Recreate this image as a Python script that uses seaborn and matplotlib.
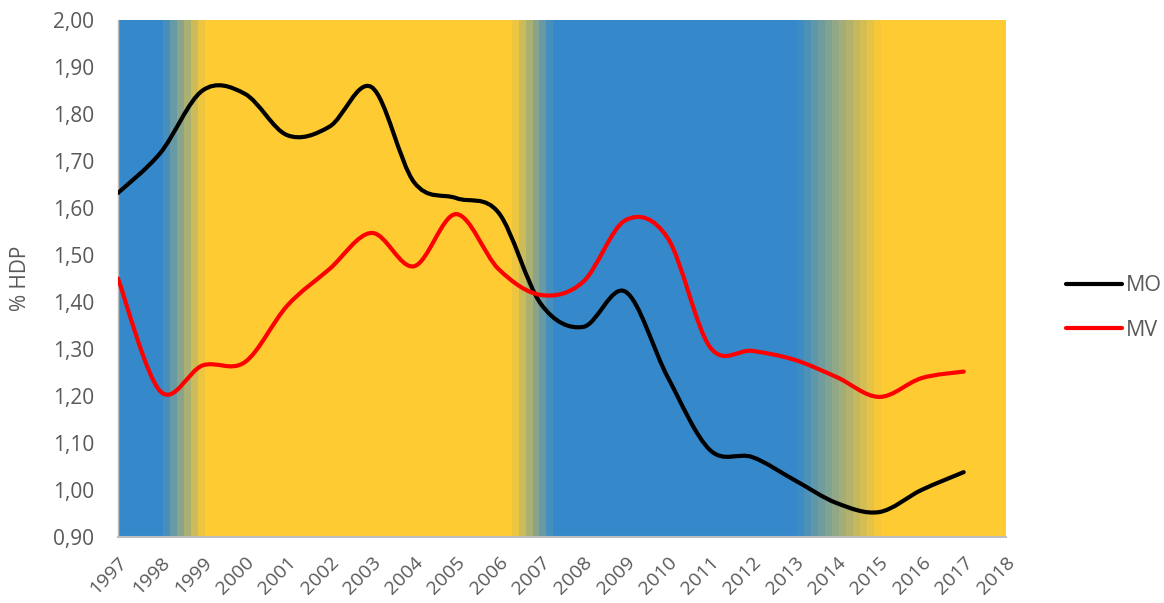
import numpy as np
import matplotlib
matplotlib.use("Agg")
import matplotlib.pyplot as plt
from matplotlib.path import Path
from matplotlib.patches import PathPatch
from matplotlib.lines import Line2D
from matplotlib.colors import to_rgb
import seaborn as sns

years = list(range(1997, 2018))
mo = [1.632, 1.717, 1.850, 1.843, 1.755, 1.773, 1.857, 1.655, 1.621, 1.590, 1.396,
      1.347, 1.422, 1.240, 1.085, 1.070, 1.021, 0.972, 0.953, 1.000, 1.038]
mv = [1.450, 1.210, 1.265, 1.272, 1.392, 1.470, 1.547, 1.476, 1.587, 1.470, 1.415,
      1.443, 1.574, 1.536, 1.304, 1.296, 1.277, 1.240, 1.198, 1.238, 1.252]
series_names = ["MO", "MV"]
series_colors = ["#000000", "#FF0000"]
x_ticks = list(range(1997, 2019))
y_ticks = [0.90, 1.00, 1.10, 1.20, 1.30, 1.40, 1.50, 1.60, 1.70, 1.80, 1.90, 2.00]

# background regimes: (start, end, colour) and blended transitions (start, end, from, to, steps)
blue = "#3589CA"
yellow = "#FECB33"
solid_spans = [(1997.0, 1998.06, blue), (1999.06, 2006.32, yellow),
               (2007.29, 2013.06, blue), (2015.04, 2018.0, yellow)]
blend_spans = [(1998.06, 1999.06, blue, yellow, 6),
               (2006.32, 2007.29, yellow, blue, 6),
               (2013.06, 2015.04, blue, yellow, 12)]

sns.set_theme(style="white")
plt.rcParams["font.family"] = ["Open Sans", "DejaVu Sans"]
text_gray = "#595959"
fs = 15

fig = plt.figure(figsize=(11.64, 6.03), dpi=100)
ax = fig.add_axes([118 / 1164, 1 - 537 / 603, (1006 - 118) / 1164, (537 - 20) / 603])

for a, b, c in solid_spans:
    ax.axvspan(a, b, color=c, lw=0, zorder=0)
for a, b, c0, c1, n in blend_spans:
    c0, c1 = np.array(to_rgb(c0)), np.array(to_rgb(c1))
    edges = np.linspace(a, b, n + 1)
    for i in range(n):
        f = (i + 0.5) / n
        ax.axvspan(edges[i], edges[i + 1], color=tuple(c0 + (c1 - c0) * f), lw=0, zorder=0)


def smooth_path(xs, ys):
    """Cubic Bezier path through every point (Catmull-Rom style tangents)."""
    pts = np.column_stack([xs, ys]).astype(float)
    n = len(pts)
    verts = [pts[0]]
    codes = [Path.MOVETO]
    for i in range(n - 1):
        p0 = pts[i - 1] if i > 0 else pts[i]
        p1, p2 = pts[i], pts[i + 1]
        p3 = pts[i + 2] if i + 2 < n else pts[i + 1]
        verts += [p1 + (p2 - p0) / 6, p2 - (p3 - p1) / 6, p2]
        codes += [Path.CURVE4] * 3
    return Path(verts, codes)


for vals, color in zip([mo, mv], series_colors):
    ax.add_patch(PathPatch(smooth_path(years, vals), fill=False, edgecolor=color,
                           lw=3.0, capstyle="round", joinstyle="round", zorder=3))

ax.set_xlim(1997, 2018)
ax.set_ylim(0.90, 2.00)
ax.set_xticks(x_ticks)
ax.set_xticklabels([str(v) for v in x_ticks], rotation=45, ha="right",
                   rotation_mode="anchor", color=text_gray, fontsize=14)
ax.set_yticks(y_ticks)
ax.set_yticklabels([f"{v:.2f}".replace(".", ",") for v in y_ticks],
                   color=text_gray, fontsize=fs)
ax.tick_params(axis="both", length=0)
ax.tick_params(axis="y", pad=17)
ax.tick_params(axis="x", pad=12)

for side in ["top", "right"]:
    ax.spines[side].set_visible(False)
ax.spines["bottom"].set_color("#BFBFBF")
ax.spines["bottom"].set_linewidth(1.5)
ax.spines["left"].set_color("#BFBFBF")
ax.spines["left"].set_linewidth(1.0)
ax.grid(False)

fig.text(20 / 1164, 1 - 278 / 603, "% HDP", rotation=90, ha="center", va="center",
         color=text_gray, fontsize=fs)

handles = [Line2D([0], [0], color=c, lw=3.0, solid_capstyle="round") for c in series_colors]
fig.legend(handles, series_names, loc="center left", bbox_to_anchor=(1066 / 1164, 1 - 308 / 603),
           frameon=False, fontsize=15.5, labelcolor=text_gray, handlelength=2.6,
           handletextpad=0.2, labelspacing=1.1, borderpad=0, borderaxespad=0)

fig.savefig("out.png", dpi=100)
